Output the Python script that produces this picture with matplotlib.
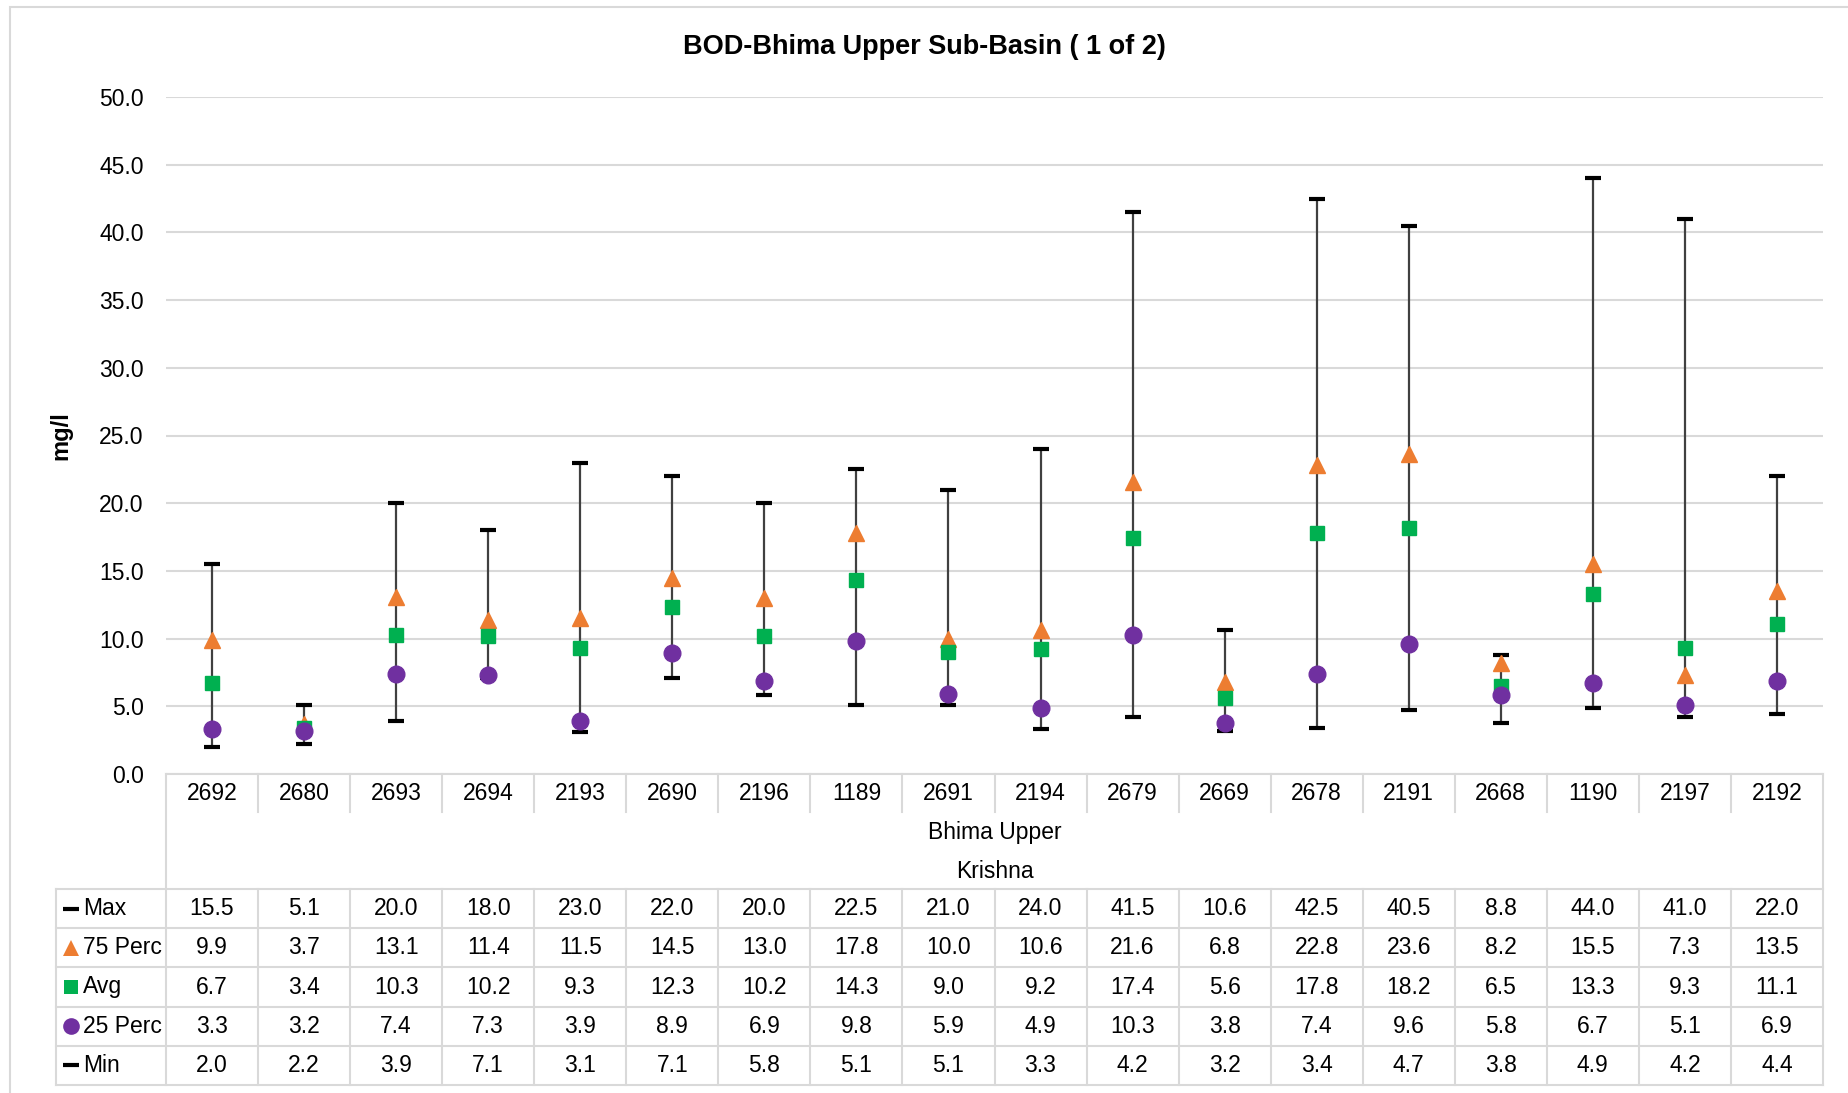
import matplotlib.pyplot as plt
from matplotlib.lines import Line2D
from matplotlib.patches import Rectangle
import numpy as np

plt.rcParams['font.family'] = ['Liberation Sans', 'DejaVu Sans']

# data
stations = ['2692', '2680', '2693', '2694', '2193', '2690', '2196', '1189', '2691',
            '2194', '2679', '2669', '2678', '2191', '2668', '1190', '2197', '2192']
max_vals = [15.5, 5.1, 20.0, 18.0, 23.0, 22.0, 20.0, 22.5, 21.0, 24.0, 41.5, 10.6, 42.5, 40.5, 8.8, 44.0, 41.0, 22.0]
p75_vals = [9.9, 3.7, 13.1, 11.4, 11.5, 14.5, 13.0, 17.8, 10.0, 10.6, 21.6, 6.8, 22.8, 23.6, 8.2, 15.5, 7.3, 13.5]
avg_vals = [6.7, 3.4, 10.3, 10.2, 9.3, 12.3, 10.2, 14.3, 9.0, 9.2, 17.4, 5.6, 17.8, 18.2, 6.5, 13.3, 9.3, 11.1]
p25_vals = [3.3, 3.2, 7.4, 7.3, 3.9, 8.9, 6.9, 9.8, 5.9, 4.9, 10.3, 3.8, 7.4, 9.6, 5.8, 6.7, 5.1, 6.9]
min_vals = [2.0, 2.2, 3.9, 7.1, 3.1, 7.1, 5.8, 5.1, 5.1, 3.3, 4.2, 3.2, 3.4, 4.7, 3.8, 4.9, 4.2, 4.4]
sub_basin = 'Bhima Upper'
basin = 'Krishna'
title = 'BOD-Bhima Upper Sub-Basin ( 1 of 2)'

W, H = 1848, 1093
GRID = '#D9D9D9'
fig = plt.figure(figsize=(W / 100, H / 100), dpi=100)

# pixel layout
px_left, px_right = 166, 1823
px_top, px_bottom = 97, 774

def fx(x):
    return x / W

def fy(y):
    return 1 - y / H

ax = fig.add_axes([fx(px_left), fy(px_bottom), fx(px_right - px_left), (px_bottom - px_top) / H])
n = len(stations)
x = np.arange(n)
ax.set_xlim(-0.5, n - 0.5)
ax.set_ylim(0, 50)
ax.set_yticks(np.arange(0, 50.1, 5))
ax.set_yticklabels(['%.1f' % v for v in np.arange(0, 50.1, 5)], fontsize=16.5)
ax.tick_params(axis='y', length=0, pad=16)
ax.set_xticks([])
for s in ax.spines.values():
    s.set_visible(False)
ax.grid(axis='y', color=GRID, lw=1.5)
ax.set_axisbelow(True)
fig.text(fx(61), fy(436), 'mg/l', rotation=90, ha='center', va='center', fontsize=17, fontweight='bold')

# high-low lines and markers
ax.vlines(x, min_vals, max_vals, color='#404040', lw=1.6, zorder=2)
dash = dict(marker='_', ms=11, mew=3, color='black', ls='none', zorder=3)
ax.plot(x, max_vals, **dash)
ax.plot(x, min_vals, **dash)
ax.plot(x, p75_vals, marker='^', ms=11.5, color='#ED7D31', ls='none', zorder=4)
ax.plot(x, avg_vals, marker='s', ms=10.5, color='#00B050', ls='none', zorder=5)
ax.plot(x, p25_vals, marker='o', ms=12, color='#7030A0', ls='none', zorder=6)

fig.text(0.5, fy(47), title, ha='center', va='center', fontsize=19.5, fontweight='bold')

# outer chart border
fig.patches.append(Rectangle((fx(10), fy(H + 10)), 1.2, (H + 10 - 7) / H, transform=fig.transFigure,
                             fill=False, ec=GRID, lw=1.5))

# data table below the plot
col_w = (px_right - px_left) / n
leg_left = 56
cat_row = (774, 812)
group_bottom = 889
row_h = 39.2
rows = [('Max', max_vals), ('75 Perc', p75_vals), ('Avg', avg_vals), ('25 Perc', p25_vals), ('Min', min_vals)]
table_bottom = group_bottom + row_h * len(rows)

def hline(y, x0, x1):
    fig.add_artist(Line2D([fx(x0), fx(x1)], [fy(y), fy(y)], color=GRID, lw=1.5))

def vline(xp, y0, y1):
    fig.add_artist(Line2D([fx(xp), fx(xp)], [fy(y0), fy(y1)], color=GRID, lw=1.5))

hline(cat_row[0], px_left, px_right)
vline(px_left, cat_row[0], table_bottom)
vline(px_right, cat_row[0], table_bottom)
vline(leg_left, group_bottom, table_bottom)
for i in range(1, n):
    xb = px_left + i * col_w
    vline(xb, cat_row[0], cat_row[1])
    vline(xb, group_bottom, table_bottom)
for k in range(len(rows) + 1):
    hline(group_bottom + k * row_h, leg_left, px_right)

for i, st in enumerate(stations):
    fig.text(fx(px_left + (i + 0.5) * col_w), fy(794), st, ha='center', va='center', fontsize=16.5)
mid = (px_left + px_right) / 2
fig.text(fx(mid), fy(833), sub_basin, ha='center', va='center', fontsize=16.5)
fig.text(fx(mid), fy(871), basin, ha='center', va='center', fontsize=16.5)

icons = [('_', 'black', 11, 3), ('^', '#ED7D31', 11.5, 0), ('s', '#00B050', 10.5, 0),
         ('o', '#7030A0', 12, 0), ('_', 'black', 11, 3)]
for k, (name, vals) in enumerate(rows):
    yc = group_bottom + (k + 0.5) * row_h
    m, c, ms, mew = icons[k]
    fig.add_artist(Line2D([fx(71)], [fy(yc)], marker=m, color=c, ms=ms, mew=mew, ls='none'))
    fig.text(fx(83), fy(yc), name, ha='left', va='center', fontsize=16.5)
    for i, v in enumerate(vals):
        fig.text(fx(px_left + (i + 0.5) * col_w), fy(yc), '%.1f' % v, ha='center', va='center', fontsize=16.5)

fig.savefig('out.png', dpi=100)
